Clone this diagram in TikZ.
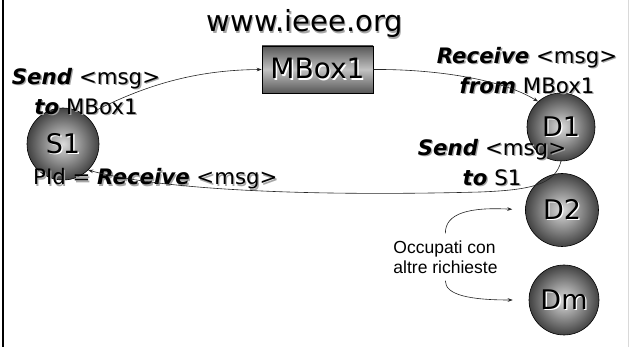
\documentclass[tikz,border=0pt]{standalone}
\usepackage{fontspec}
\setmainfont{DejaVu Sans}
\newfontfamily\arialf{Liberation Sans}
\usetikzlibrary{arrows.meta}
\newcommand\shd[2][black!35]{\makebox[0pt][l]{\hspace*{1.3pt}\raisebox{-1.3pt}{\textcolor{#1}{#2}}}#2}
\newcommand\kw[1]{\textbf{\textit{#1}}}
\tikzset{
  sphere/.style={circle, draw=black, line width=0.6pt, inner color=black!14, outer color=black!74,
    inner sep=0pt, font=\fontsize{27}{27}\selectfont},
  boxst/.style={rectangle, draw=black, line width=0.6pt, top color=black!66, bottom color=black!66,
    middle color=black!24, inner sep=0pt, minimum width=111pt, minimum height=47pt,
    font=\fontsize{28}{28}\selectfont},
  lbl/.style={font=\fontsize{21.3}{30.5}\selectfont, align=center, inner sep=0pt},
  smalllbl/.style={font=\arialf\fontsize{17.5}{20}\selectfont, align=left, inner sep=0pt},
  arr/.style={-{Stealth[length=5pt,width=3.6pt]}, line width=0.6pt, draw=black!85},
}
\begin{document}
\begin{tikzpicture}[x=1pt,y=-1pt]
\useasboundingbox (0,0) rectangle (629,347);
\fill[white] (0,0) rectangle (629,347);
\draw[line width=2.2pt, black] (2.6,0) -- (2.6,347);
\draw[line width=0.8pt, black!15] (628,0) -- (628,347);

\node[anchor=base, font=\fontsize{29}{29}\selectfont, inner sep=0pt] (title) at (305,32) {\shd{www.ieee.org}};
\node[boxst] (mbox) at (317.5,69.5) {\shd[white]{MBox1}};

\node[sphere, minimum size=72pt] (S1) at (63,144) {\shd[white]{S1}};
\node[sphere, minimum size=68pt] (D1) at (561,127) {\shd[white]{D1}};
\node[sphere, minimum size=73pt] (D2) at (562,210) {\shd[white]{D2}};
\node[sphere, minimum size=70pt] (Dm) at (564,300) {\shd[white]{Dm}};

\node[lbl] (send1) at (86,92) {\shd{\kw{Send} <msg>}\\\shd{\kw{to} MBox1}};
\node[lbl] (recv1) at (527,71) {\shd{\kw{Receive} <msg>}\\\shd{\kw{from} MBox1}};
\node[lbl] (send2) at (492,163) {\shd{\kw{Send} <msg>}\\\shd{\kw{to} S1}};
\node[lbl, anchor=base west] (pid) at (33,185) {\shd{PId = \kw{Receive} <msg>}};
\node[smalllbl] (occ) at (445.5,257) {Occupati con\\altre richieste};

\draw[arr] ([shift={(10,-6)}]S1.50) .. controls (150,83) and (200,70) .. (mbox.west);
\draw[arr] (mbox.east) .. controls (430,69) and (500,78) .. (D1.132);
\draw[arr] (D1.south) .. controls (555,185) and (530,190) .. (480,192)
   .. controls (330,196) and (170,192) .. (S1.-46);
\draw[arr, shorten <=7pt, shorten >=13pt] (occ.north) .. controls (445,213) and (470,207) .. (D2.west);
\draw[arr, shorten <=7pt, shorten >=16pt] (occ.south) .. controls (445,295) and (470,300) .. (Dm.west);
\end{tikzpicture}
\end{document}
